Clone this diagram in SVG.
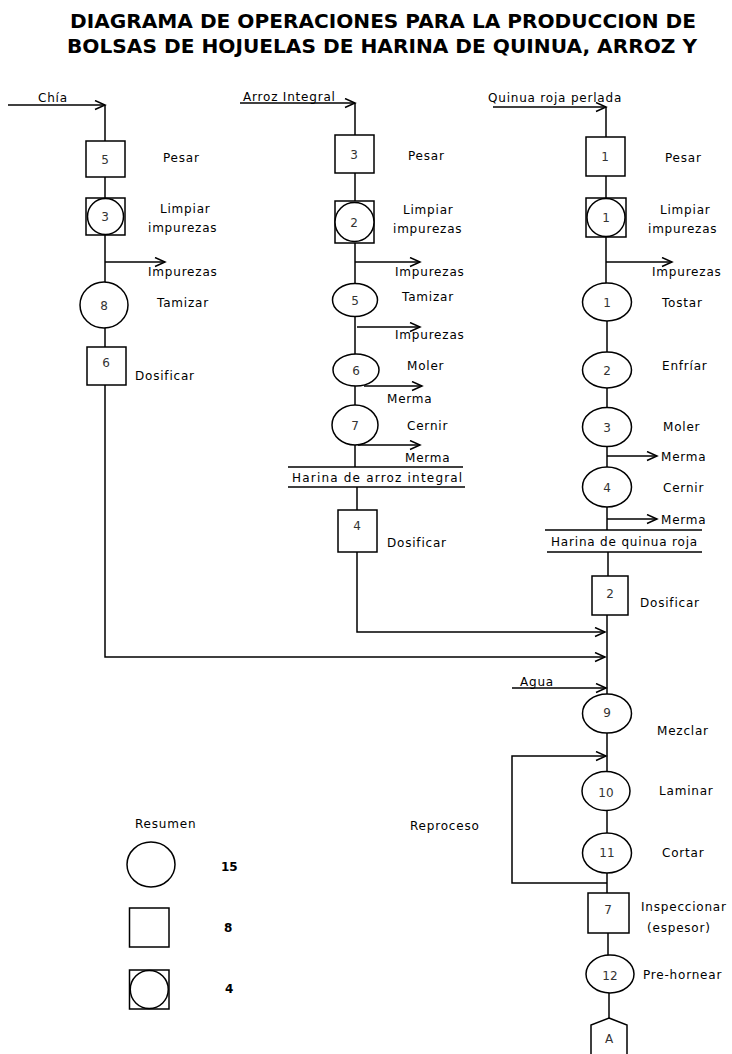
<svg xmlns="http://www.w3.org/2000/svg" width="732" height="1054" viewBox="0 0 732 1054">
<defs>
<style>
.bg{fill:#fff}
.sh{fill:#fff;stroke:#000;stroke-width:1.5}
.ln{fill:none;stroke:#000;stroke-width:1.5}
.t{font-family:"DejaVu Sans",sans-serif;font-size:12px;letter-spacing:0.8px;fill:#000}
.n{font-family:"DejaVu Sans",sans-serif;font-size:12px;fill:#333;text-anchor:middle}
.k{font-family:"DejaVu Sans",sans-serif;font-size:12px;font-weight:bold;fill:#000}
.ti{font-family:"DejaVu Sans",sans-serif;font-size:19px;font-weight:bold;fill:#000}
</style>
<marker id="ar" markerUnits="userSpaceOnUse" markerWidth="14" markerHeight="12" refX="11" refY="5" orient="auto" viewBox="0 0 14 12">
<path d="M1,0.5 L11,5 L1,9.5" fill="none" stroke="#000" stroke-width="1.5"/>
</marker>
</defs>
<rect class="bg" x="0" y="0" width="732" height="1054"/>

<g id="title">
<text class="ti" x="70" y="28" textLength="626" lengthAdjust="spacingAndGlyphs">DIAGRAMA DE OPERACIONES PARA LA PRODUCCION DE</text>
<text class="ti" x="67" y="53" textLength="630" lengthAdjust="spacingAndGlyphs">BOLSAS DE HOJUELAS DE HARINA DE QUINUA, ARROZ Y</text>
</g>

<g id="connectors">
<!-- left column -->
<line class="ln" x1="8" y1="105" x2="105" y2="105" marker-end="url(#ar)"/>
<line class="ln" x1="105" y1="105" x2="105" y2="141"/>
<line class="ln" x1="105" y1="177" x2="105" y2="198"/>
<line class="ln" x1="105" y1="235" x2="105" y2="282"/>
<line class="ln" x1="105" y1="262" x2="165" y2="262" marker-end="url(#ar)"/>
<line class="ln" x1="105" y1="328" x2="105" y2="347"/>
<polyline class="ln" points="105,385 105,657 605,657" marker-end="url(#ar)"/>
<!-- middle column -->
<line class="ln" x1="240" y1="103" x2="355" y2="103" marker-end="url(#ar)"/>
<line class="ln" x1="355" y1="103" x2="355" y2="135"/>
<line class="ln" x1="355" y1="173" x2="355" y2="201"/>
<line class="ln" x1="355" y1="243" x2="355" y2="284"/>
<line class="ln" x1="355" y1="262" x2="420" y2="262" marker-end="url(#ar)"/>
<line class="ln" x1="355" y1="316" x2="355" y2="355"/>
<line class="ln" x1="357" y1="327" x2="420" y2="327" marker-end="url(#ar)"/>
<line class="ln" x1="355" y1="385" x2="355" y2="405"/>
<line class="ln" x1="364" y1="386" x2="422" y2="386" marker-end="url(#ar)"/>
<line class="ln" x1="355" y1="445" x2="355" y2="467"/>
<line class="ln" x1="358" y1="445" x2="420" y2="445" marker-end="url(#ar)"/>
<line class="ln" x1="288" y1="467" x2="463" y2="467"/>
<line class="ln" x1="288" y1="487" x2="465" y2="487"/>
<line class="ln" x1="357" y1="487" x2="357" y2="510"/>
<polyline class="ln" points="357,552 357,632 605,632" marker-end="url(#ar)"/>
<!-- right column -->
<line class="ln" x1="493" y1="107" x2="606" y2="107" marker-end="url(#ar)"/>
<line class="ln" x1="606" y1="107" x2="606" y2="137"/>
<line class="ln" x1="606" y1="176" x2="606" y2="198"/>
<line class="ln" x1="606" y1="237" x2="606" y2="283"/>
<line class="ln" x1="606" y1="262" x2="672" y2="262" marker-end="url(#ar)"/>
<line class="ln" x1="607" y1="321" x2="607" y2="352"/>
<line class="ln" x1="607" y1="388" x2="607" y2="408"/>
<line class="ln" x1="607" y1="446" x2="607" y2="467"/>
<line class="ln" x1="607" y1="456" x2="657" y2="456" marker-end="url(#ar)"/>
<line class="ln" x1="607" y1="507" x2="607" y2="530"/>
<line class="ln" x1="607" y1="519" x2="657" y2="519" marker-end="url(#ar)"/>
<line class="ln" x1="545" y1="530" x2="702" y2="530"/>
<line class="ln" x1="547" y1="552" x2="702" y2="552"/>
<line class="ln" x1="608" y1="552" x2="608" y2="576"/>
<line class="ln" x1="607" y1="615" x2="607" y2="694"/>
<line class="ln" x1="512" y1="688" x2="606" y2="688" marker-end="url(#ar)"/>
<line class="ln" x1="607" y1="733" x2="607" y2="772"/>
<polyline class="ln" points="607,883 512,883 512,756 606,756" marker-end="url(#ar)"/>
<line class="ln" x1="607" y1="810" x2="607" y2="833"/>
<line class="ln" x1="607" y1="873" x2="607" y2="893"/>
<line class="ln" x1="608" y1="933" x2="608" y2="955"/>
<line class="ln" x1="609" y1="993" x2="609" y2="1018"/>
</g>

<g id="inputs">
<text class="t" x="38" y="102">Chía</text>
<text class="t" x="243" y="101" letter-spacing="0.3">Arroz Integral</text>
<text class="t" x="488" y="102" letter-spacing="0.2">Quinua roja perlada</text>
<text class="t" x="520" y="686">Agua</text>
</g>

<!-- left column nodes -->
<g id="chia-pesar">
<rect class="sh" x="86" y="141" width="39" height="36"/>
<text class="n" x="105" y="164">5</text>
<text class="t" x="163" y="162">Pesar</text>
</g>
<g id="chia-limpiar">
<rect class="sh" x="86" y="198" width="39" height="37"/>
<circle class="sh" cx="105.5" cy="216.5" r="18"/>
<text class="n" x="105" y="221">3</text>
<text class="t" x="160" y="213">Limpiar</text>
<text class="t" x="148" y="232">impurezas</text>
<text class="t" x="148" y="276">Impurezas</text>
</g>
<g id="chia-tamizar">
<ellipse class="sh" cx="104" cy="305" rx="24" ry="23"/>
<text class="n" x="104" y="310">8</text>
<text class="t" x="157" y="307">Tamizar</text>
</g>
<g id="chia-dosificar">
<rect class="sh" x="87" y="347" width="39" height="38"/>
<text class="n" x="106" y="367">6</text>
<text class="t" x="135" y="380">Dosificar</text>
</g>

<!-- middle column nodes -->
<g id="arroz-pesar">
<rect class="sh" x="335" y="135" width="39" height="38"/>
<text class="n" x="354" y="159">3</text>
<text class="t" x="408" y="160">Pesar</text>
</g>
<g id="arroz-limpiar">
<rect class="sh" x="335" y="201" width="39" height="42"/>
<circle class="sh" cx="354.5" cy="222" r="19.5"/>
<text class="n" x="354" y="227">2</text>
<text class="t" x="403" y="214">Limpiar</text>
<text class="t" x="393" y="233">impurezas</text>
<text class="t" x="395" y="276">Impurezas</text>
</g>
<g id="arroz-tamizar">
<ellipse class="sh" cx="355" cy="300" rx="22.5" ry="16.5"/>
<text class="n" x="355" y="305">5</text>
<text class="t" x="402" y="301">Tamizar</text>
<text class="t" x="395" y="339">Impurezas</text>
</g>
<g id="arroz-moler">
<ellipse class="sh" cx="356" cy="370" rx="23" ry="16"/>
<text class="n" x="356" y="375">6</text>
<text class="t" x="407" y="370">Moler</text>
<text class="t" x="387" y="403">Merma</text>
</g>
<g id="arroz-cernir">
<ellipse class="sh" cx="355" cy="425" rx="23" ry="20"/>
<text class="n" x="355" y="430">7</text>
<text class="t" x="407" y="430">Cernir</text>
<text class="t" x="405" y="462">Merma</text>
</g>
<g id="harina-arroz">
<text class="t" x="292" y="482" letter-spacing="0" textLength="171">Harina de arroz integral</text>
</g>
<g id="arroz-dosificar">
<rect class="sh" x="338" y="510" width="39" height="42"/>
<text class="n" x="357" y="530">4</text>
<text class="t" x="387" y="547">Dosificar</text>
</g>

<!-- right column nodes -->
<g id="quinua-pesar">
<rect class="sh" x="586" y="137" width="39" height="39"/>
<text class="n" x="605" y="161">1</text>
<text class="t" x="665" y="162">Pesar</text>
</g>
<g id="quinua-limpiar">
<rect class="sh" x="586" y="198" width="40" height="39"/>
<circle class="sh" cx="606" cy="217.5" r="19"/>
<text class="n" x="606" y="222">1</text>
<text class="t" x="660" y="214">Limpiar</text>
<text class="t" x="648" y="233">impurezas</text>
<text class="t" x="652" y="276">Impurezas</text>
</g>
<g id="quinua-tostar">
<ellipse class="sh" cx="607" cy="302" rx="24.5" ry="19"/>
<text class="n" x="607" y="307">1</text>
<text class="t" x="662" y="307">Tostar</text>
</g>
<g id="quinua-enfriar">
<ellipse class="sh" cx="607" cy="370" rx="24.5" ry="18"/>
<text class="n" x="607" y="375">2</text>
<text class="t" x="662" y="370">Enfríar</text>
</g>
<g id="quinua-moler">
<ellipse class="sh" cx="607" cy="427" rx="24.5" ry="19.5"/>
<text class="n" x="607" y="432">3</text>
<text class="t" x="663" y="431">Moler</text>
<text class="t" x="661" y="461">Merma</text>
</g>
<g id="quinua-cernir">
<ellipse class="sh" cx="607" cy="487" rx="24.5" ry="20"/>
<text class="n" x="607" y="492">4</text>
<text class="t" x="663" y="492">Cernir</text>
<text class="t" x="661" y="524">Merma</text>
</g>
<g id="harina-quinua">
<text class="t" x="551" y="546" letter-spacing="0" textLength="147">Harina de quinua roja</text>
</g>
<g id="quinua-dosificar">
<rect class="sh" x="592" y="576" width="36" height="39"/>
<text class="n" x="610" y="598">2</text>
<text class="t" x="640" y="607">Dosificar</text>
</g>
<g id="mezclar">
<ellipse class="sh" cx="607" cy="713.5" rx="24.5" ry="19.5"/>
<text class="n" x="607" y="717">9</text>
<text class="t" x="657" y="735">Mezclar</text>
</g>
<g id="laminar">
<ellipse class="sh" cx="606" cy="791" rx="24" ry="19.5"/>
<text class="n" x="606" y="797">10</text>
<text class="t" x="659" y="795">Laminar</text>
</g>
<g id="reproceso">
<text class="t" x="410" y="830">Reproceso</text>
</g>
<g id="cortar">
<ellipse class="sh" cx="607" cy="853" rx="24.5" ry="20"/>
<text class="n" x="607" y="857">11</text>
<text class="t" x="662" y="857">Cortar</text>
</g>
<g id="inspeccionar">
<rect class="sh" x="588" y="893" width="41" height="40"/>
<text class="n" x="608" y="914">7</text>
<text class="t" x="641" y="911" letter-spacing="0.4">Inspeccionar</text>
<text class="t" x="647" y="932">(espesor)</text>
</g>
<g id="prehornear">
<ellipse class="sh" cx="610" cy="974" rx="24" ry="19"/>
<text class="n" x="610" y="980">12</text>
<text class="t" x="643" y="979" letter-spacing="0.4">Pre-hornear</text>
</g>
<g id="conector-A">
<polygon class="sh" points="609,1018 627,1025 627,1056 591,1056 591,1025"/>
<text class="n" x="609" y="1043">A</text>
</g>

<g id="resumen">
<text class="t" x="135" y="828">Resumen</text>
<ellipse class="sh" cx="151" cy="864.5" rx="24" ry="22.5"/>
<text class="k" x="221" y="871">15</text>
<rect class="sh" x="129.5" y="908" width="39.5" height="39"/>
<text class="k" x="224" y="932">8</text>
<rect class="sh" x="129.5" y="970" width="39.5" height="39"/>
<circle class="sh" cx="149.25" cy="989.5" r="19"/>
<text class="k" x="225" y="993">4</text>
</g>
</svg>
